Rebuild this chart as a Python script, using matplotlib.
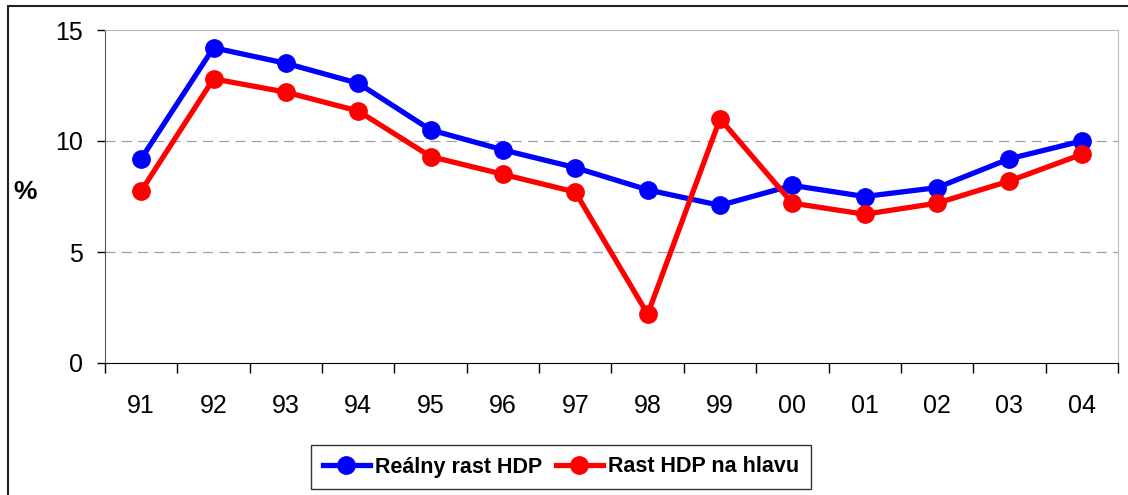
import matplotlib.pyplot as plt
from matplotlib.patches import Rectangle

# roky a hodnoty (%)
roky = ["91", "92", "93", "94", "95", "96", "97", "98", "99", "00", "01", "02", "03", "04"]
realny_rast = [9.2, 14.2, 13.5, 12.6, 10.5, 9.6, 8.8, 7.8, 7.1, 8.0, 7.5, 7.9, 9.2, 10.0]
rast_na_hlavu = [7.75, 12.8, 12.2, 11.35, 9.3, 8.5, 7.7, 2.2, 11.0, 7.2, 6.7, 7.2, 8.2, 9.4]

plt.rcParams['font.family'] = ['Liberation Sans', 'DejaVu Sans']

fig = plt.figure(figsize=(11.28, 4.95), dpi=100)
ax = fig.add_axes([105 / 1128, 1 - 363 / 495, 1013 / 1128, 333 / 495])

x = list(range(len(roky)))
ax.plot(x, realny_rast, color='#0000FF', lw=3.8, marker='o', ms=12.5, label='Reálny rast HDP', zorder=3)
ax.plot(x, rast_na_hlavu, color='#FF0000', lw=3.8, marker='o', ms=12.5, label='Rast HDP na hlavu', zorder=3)

ax.set_xlim(-0.5, len(roky) - 0.5)
ax.set_ylim(0, 15)
ax.set_yticks([0, 5, 10, 15])
ax.tick_params(axis='y', labelsize=18, length=6, width=1, pad=10)

# kategórie medzi značkami
ax.set_xticks(x)
ax.set_xticklabels(roky)
ax.tick_params(axis='x', which='major', length=0, labelsize=18, pad=22)
ax.set_xticks([i - 0.5 for i in range(len(roky) + 1)], minor=True)
ax.tick_params(axis='x', which='minor', length=7, width=1, direction='out')

for v in [5, 10]:
    ax.axhline(v, color='#A0A0A0', lw=0.9, ls=(0, (8, 5)), zorder=1)

ax.spines['top'].set_color('#BBBBBB')
ax.spines['right'].set_color('#BBBBBB')
ax.spines['left'].set_color('#555555')
ax.spines['bottom'].set_color('black')

fig.text(25 / 1128, 1 - 192 / 495, '%', fontsize=19, fontweight='bold', ha='center', va='center')

leg = fig.legend(loc='center', bbox_to_anchor=(561 / 1128, 1 - 467 / 495), ncol=2,
                 prop={'weight': 'bold', 'size': 15.5},
                 frameon=True, fancybox=False,
                 handlelength=2.2, columnspacing=0.6, handletextpad=0.25, borderpad=0.55)
leg.get_frame().set_edgecolor('black')
leg.get_frame().set_linewidth(1.0)

# vonkajší rámik
fig.patches.append(Rectangle((8 / 1128, -0.05), 1.2, 1 - 6 / 495 + 0.05, transform=fig.transFigure,
                             fill=False, edgecolor='#222222', lw=1.5))

fig.savefig('out.png', dpi=100)
